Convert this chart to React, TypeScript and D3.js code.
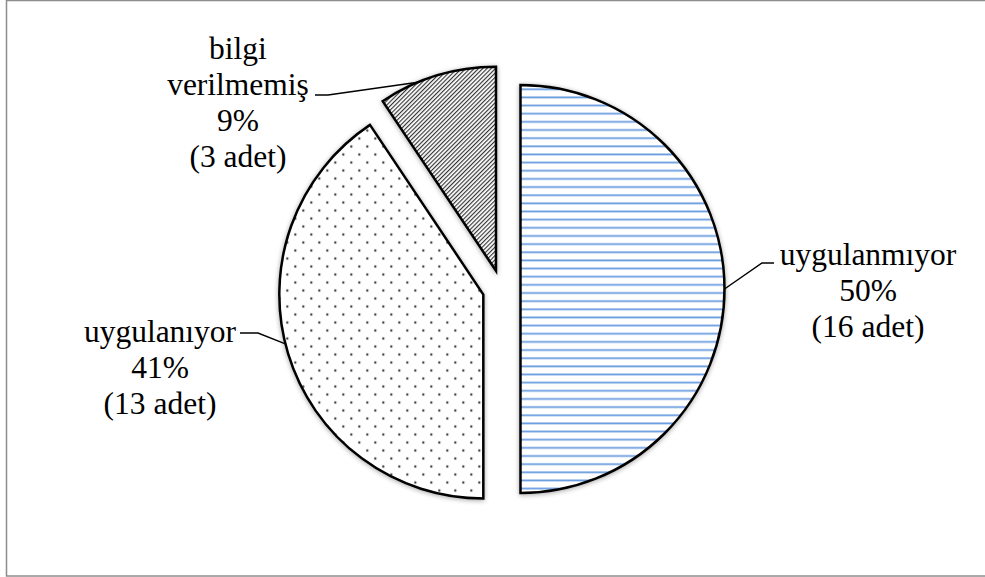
import React from "react";
import * as d3 from "d3";

const categories = ["uygulanmıyor", "uygulanıyor", "bilgi verilmemiş"];
const counts = [16, 13, 3];
const percentLabels = ["50%", "41%", "9%"];
const countLabels = ["(16 adet)", "(13 adet)", "(3 adet)"];
const labelLines = [["uygulanmıyor"], ["uygulanıyor"], ["bilgi", "verilmemiş"]];

const W = 985;
const H = 577;
const CX = 501.5;
const CY = 289;
const R = 204;
const EXPLODE = 19;
const FONT = "'Liberation Serif', 'Times New Roman', serif";
const FS = 31.5;
const LH = 36;

// label layout: center x, first baseline, leader anchor (text side) and elbow
const labelLayout = [
  { x: 868, y: 265, ax: 774, ay: 263, ex: 762, leaderAngle: 90 },
  { x: 160, y: 342, ax: 240, ay: 333, ex: 258, leaderAngle: 256 },
  { x: 238, y: 59, ax: 315, ay: 95, ex: 328, leaderAngle: 337.5 },
];

const fills = ["url(#pHoriz)", "url(#pDots)", "url(#pHatch)"];

export default function App() {
  const pie = d3
    .pie<number>()
    .sort(null)
    .value((d) => d)
    .startAngle(0)
    .endAngle(2 * Math.PI);
  const arcs = pie(counts);
  const arcGen = d3.arc<d3.PieArcDatum<number>>().innerRadius(0).outerRadius(R);

  return (
    <svg
      width={W}
      height={H}
      style={{ position: "absolute", left: 0, top: 0, background: "#fff" }}
    >
      <defs>
        <pattern id="pHoriz" patternUnits="userSpaceOnUse" width={8} height={8.15}>
          <rect width={8} height={8.15} fill="#fff" />
          <line x1={0} x2={8} y1={4} y2={4} stroke="#6a9de0" strokeWidth={1.8} />
        </pattern>
        <pattern id="pDots" patternUnits="userSpaceOnUse" width={16} height={16}>
          <rect width={16} height={16} fill="#fff" />
          <circle cx={4} cy={4} r={1.2} fill="#3a3a3a" />
          <circle cx={12} cy={12} r={1.2} fill="#3a3a3a" />
        </pattern>
        <pattern
          id="pHatch"
          patternUnits="userSpaceOnUse"
          width={3}
          height={3}
          patternTransform="rotate(45)"
        >
          <rect width={3} height={3} fill="#fff" />
          <line x1={0.6} x2={0.6} y1={0} y2={3} stroke="#2a2a2a" strokeWidth={1.1} />
        </pattern>
        <filter id="shadow" x="-20%" y="-20%" width="140%" height="140%">
          <feGaussianBlur in="SourceAlpha" stdDeviation={2.5} />
          <feOffset dx={0} dy={1} result="b" />
          <feComponentTransfer>
            <feFuncA type="linear" slope={0.35} />
          </feComponentTransfer>
          <feMerge>
            <feMergeNode />
            <feMergeNode in="SourceGraphic" />
          </feMerge>
        </filter>
      </defs>
      <rect x={6.5} y={0.5} width={W + 10} height={575.5} fill="#fff" stroke="#8c8c8c" strokeWidth={1.5} />

      {arcs.map((a, i) => {
        const mid = (a.startAngle + a.endAngle) / 2;
        const ox = CX + Math.sin(mid) * EXPLODE;
        const oy = CY - Math.cos(mid) * EXPLODE;
        return (
          <g key={categories[i]} transform={`translate(${ox},${oy})`} filter="url(#shadow)">
            <path d={arcGen(a) || ""} fill={fills[i]} stroke="#000" strokeWidth={2.5} strokeLinejoin="miter" />
          </g>
        );
      })}

      {arcs.map((a, i) => {
        const mid = (a.startAngle + a.endAngle) / 2;
        const ox = CX + Math.sin(mid) * EXPLODE;
        const oy = CY - Math.cos(mid) * EXPLODE;
        const L = labelLayout[i];
        const ang = (L.leaderAngle * Math.PI) / 180;
        const px = ox + Math.sin(ang) * R;
        const py = oy - Math.cos(ang) * R;
        const lines = [...labelLines[i], percentLabels[i], countLabels[i]];
        return (
          <g key={"l" + i}>
            <polyline
              points={`${L.ax},${L.ay} ${L.ex},${L.ay} ${px},${py}`}
              fill="none"
              stroke="#000"
              strokeWidth={1.5}
            />
            <text
              x={L.x}
              y={L.y}
              textAnchor="middle"
              fontFamily={FONT}
              fontSize={FS}
              fill="#000"
            >
              {lines.map((t, j) => (
                <tspan key={j} x={L.x} y={L.y + j * LH}>
                  {t}
                </tspan>
              ))}
            </text>
          </g>
        );
      })}
    </svg>
  );
}
